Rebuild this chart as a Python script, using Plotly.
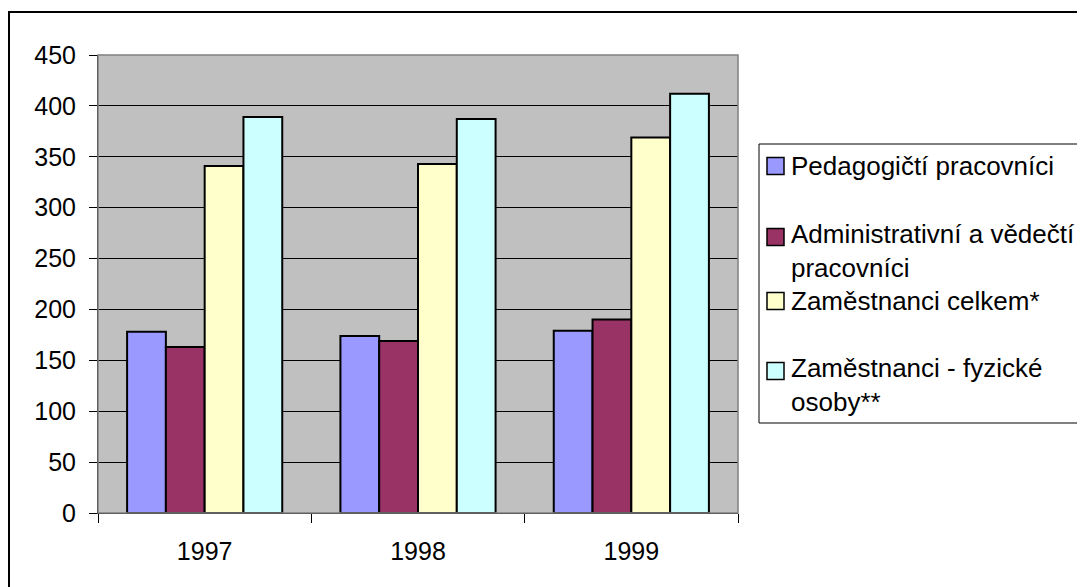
import plotly.graph_objects as go

# ---- data ----
years = ["1997", "1998", "1999"]
series_names = [
    "Pedagogičtí pracovníci",
    "Administrativní a vědečtí\npracovníci",
    "Zaměstnanci celkem*",
    "Zaměstnanci - fyzické\nosoby**",
]
pedagogicti = [178, 174, 179]
administrativni = [163, 169, 190]
zamestnanci_celkem = [341, 343, 369]
zamestnanci_fyzicke = [389, 387, 412]
y_ticks = [0, 50, 100, 150, 200, 250, 300, 350, 400, 450]

series_values = [pedagogicti, administrativni, zamestnanci_celkem, zamestnanci_fyzicke]
colors = ["#9999FF", "#993366", "#FFFFCC", "#CCFFFF"]

# ---- layout geometry (page pixels; the page body has an 8px margin) ----
OFF = 8
W, H = 1085 - OFF, 587 - OFF
L, R, T, B = 98, 738, 55, 513   # plot area in page pixels


def px(x):
    return (x - L) / (R - L)


def py(y):
    return (B - y) / (B - T)


FONT = "Liberation Sans, Arial, sans-serif"

fig = go.Figure()
for name, vals, col in zip(series_names, series_values, colors):
    fig.add_trace(go.Bar(
        x=years, y=vals, name=name.replace("\n", " "),
        marker=dict(color=col, line=dict(color="black", width=2)),
        showlegend=False,
    ))

shapes = [
    # outer chart border
    dict(type="rect", xref="paper", yref="paper", x0=px(9), x1=px(1100), y0=py(600), y1=py(12),
         line=dict(color="black", width=2), layer="below"),
    # plot area border
    dict(type="rect", xref="paper", yref="paper", x0=0, x1=1, y0=0, y1=1,
         line=dict(color="#808080", width=1.5), layer="above"),
    # legend box
    dict(type="rect", xref="paper", yref="paper", x0=px(759), x1=px(1100), y0=py(423), y1=py(144),
         line=dict(color="black", width=1), fillcolor="white", layer="below"),
]

annotations = []
# legend entries: y of first text line
entry_first_line = [166, 237, 301, 371]
line_gap = 27
for name, col, y0 in zip(series_names, colors, entry_first_line):
    lines = name.split("\n")
    shapes.append(dict(type="rect", xref="paper", yref="paper",
                       x0=px(767), x1=px(784), y0=py(y0 + 8.5), y1=py(y0 - 8.5),
                       fillcolor=col, line=dict(color="black", width=1.5), layer="above"))
    centre = y0 + (len(lines) - 1) * line_gap / 2
    annotations.append(dict(
        xref="paper", yref="paper", x=px(789), y=py(centre),
        xanchor="left", yanchor="middle", align="left", text="<br>".join(lines),
        showarrow=False, font=dict(family=FONT, size=26, color="black"),
    ))

fig.update_layout(
    width=W, height=H,
    margin=dict(l=L - OFF, r=W - (R - OFF), t=T - OFF, b=H - (B - OFF), pad=0),
    paper_bgcolor="white",
    plot_bgcolor="#C0C0C0",
    barmode="group",
    bargap=0.2727,
    bargroupgap=0,
    font=dict(family=FONT, size=25, color="black"),
    xaxis=dict(
        type="category", showline=True, linecolor="black", linewidth=1,
        ticks="outside", ticklen=9, tickcolor="black", tickwidth=1,
        tickson="boundaries", showgrid=False, ticklabelstandoff=16,
        tickfont=dict(family=FONT, size=25, color="black"),
    ),
    yaxis=dict(
        range=[0, 450], tickvals=y_ticks, showline=True, linecolor="black", linewidth=1,
        ticks="outside", ticklen=8, tickcolor="black", tickwidth=1,
        showgrid=True, gridcolor="black", gridwidth=1, zeroline=False,
        ticklabelstandoff=8,
        tickfont=dict(family=FONT, size=25, color="black"),
    ),
    shapes=shapes,
    annotations=annotations,
)

fig.write_html("out.html")
